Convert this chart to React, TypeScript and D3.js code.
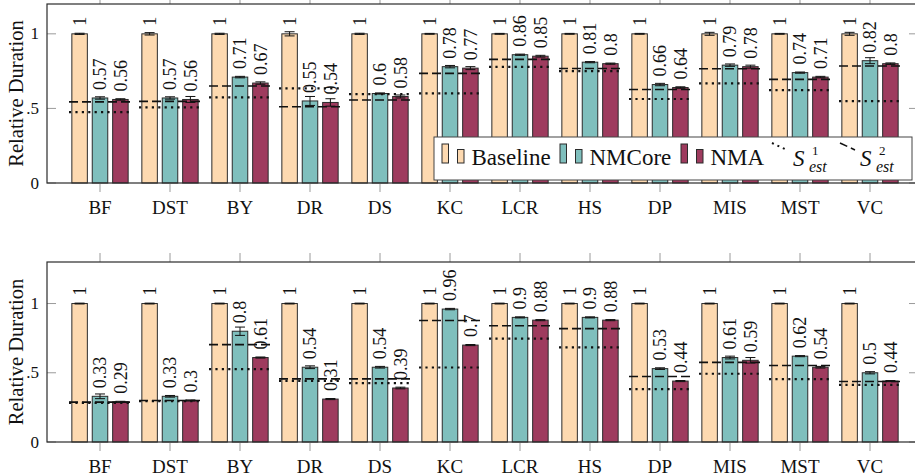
import React from "react";
import * as d3 from "d3";

const categories = ["BF", "DST", "BY", "DR", "DS", "KC", "LCR", "HS", "DP", "MIS", "MST", "VC"];
const seriesNames = ["Baseline", "NMCore", "NMA"];
const yTickValues = [0, 0.5, 1];
const yTickLabels = ["0", ".5", "1"];

// Top panel
const topBaseline = [1, 1, 1, 1, 1, 1, 1, 1, 1, 1, 1, 1];
const topNMCore = [0.57, 0.57, 0.71, 0.55, 0.6, 0.78, 0.86, 0.81, 0.66, 0.79, 0.74, 0.82];
const topNMA = [0.56, 0.56, 0.67, 0.54, 0.58, 0.77, 0.85, 0.8, 0.64, 0.78, 0.71, 0.8];
const topBaselineErr = [0.004, 0.008, 0.004, 0.014, 0.004, 0.003, 0.003, 0.003, 0.003, 0.01, 0.003, 0.01];
const topNMCoreErr = [0.008, 0.008, 0.005, 0.03, 0.004, 0.008, 0.004, 0.004, 0.008, 0.008, 0.004, 0.02];
const topNMAErr = [0.005, 0.02, 0.008, 0.025, 0.01, 0.01, 0.006, 0.004, 0.005, 0.01, 0.005, 0.005];
const topS1 = [0.475, 0.507, 0.574, 0.634, 0.596, 0.601, 0.779, 0.75, 0.563, 0.668, 0.623, 0.549];
const topS2 = [0.544, 0.547, 0.65, 0.511, 0.556, 0.735, 0.829, 0.768, 0.627, 0.766, 0.695, 0.784];

// Bottom panel
const botBaseline = [1, 1, 1, 1, 1, 1, 1, 1, 1, 1, 1, 1];
const botNMCore = [0.33, 0.33, 0.8, 0.54, 0.54, 0.96, 0.9, 0.9, 0.53, 0.61, 0.62, 0.5];
const botNMA = [0.29, 0.3, 0.61, 0.31, 0.39, 0.7, 0.88, 0.88, 0.44, 0.59, 0.54, 0.44];
const botBaselineErr = [0.003, 0.003, 0.003, 0.003, 0.003, 0.003, 0.003, 0.003, 0.003, 0.003, 0.003, 0.003];
const botNMCoreErr = [0.017, 0.006, 0.03, 0.01, 0.006, 0.005, 0.004, 0.004, 0.006, 0.01, 0.004, 0.008];
const botNMAErr = [0.004, 0.004, 0.004, 0.004, 0.006, 0.004, 0.004, 0.004, 0.004, 0.02, 0.006, 0.004];
const botS1 = [0.283, 0.295, 0.527, 0.442, 0.425, 0.538, 0.746, 0.683, 0.382, 0.493, 0.454, 0.413];
const botS2 = [0.288, 0.3, 0.703, 0.456, 0.456, 0.877, 0.84, 0.819, 0.473, 0.575, 0.553, 0.437];

const COLORS = ["#FDD9B0", "#7FBFBD", "#9E3B5E"];
const FONT = '"Liberation Serif", "DejaVu Serif", "Times New Roman", Times, serif';
const W = 915;
const H = 476;
const PLOT_LEFT = 47;
const PLOT_RIGHT = 918;

type PanelProps = {
  top: number;
  bottom: number;
  yMax: number;
  values: number[][];
  errs: number[][];
  s1: number[];
  s2: number[];
  legend?: boolean;
};

const x = d3.scalePoint<string>().domain(categories).range([PLOT_LEFT + 53, PLOT_RIGHT - 48]);
const off = d3.scalePoint<string>().domain(seriesNames).range([-20.4, 20.4]);
const BAR_W = 15.5;
const LINE_HALF = 31;

const T = (size: number, italic = false): React.CSSProperties => ({
  fontFamily: FONT,
  fontSize: size,
  fontStyle: italic ? "italic" : "normal",
  fill: "#111",
});

function Panel({ top, bottom, yMax, values, errs, s1, s2, legend }: PanelProps) {
  const y = d3.scaleLinear().domain([0, yMax]).range([bottom, top]);
  const fmt = (v: number) => String(+v.toFixed(2));
  const midY = (top + bottom) / 2;
  return (
    <g>
      {seriesNames.map((s, si) =>
        categories.map((c, ci) => {
          const cx = (x(c) as number) + (off(s) as number);
          const v = values[si][ci];
          return (
            <rect
              key={`b-${s}-${c}`}
              x={cx - BAR_W / 2}
              y={y(v)}
              width={BAR_W}
              height={y(0) - y(v)}
              fill={COLORS[si]}
              stroke="#2b2b2b"
              strokeWidth={1}
            />
          );
        })
      )}
      {seriesNames.map((s, si) =>
        categories.map((c, ci) => {
          const cx = (x(c) as number) + (off(s) as number);
          const v = values[si][ci];
          const e = errs[si][ci];
          return (
            <g key={`e-${s}-${c}`} stroke="#111" strokeWidth={1}>
              <line x1={cx} x2={cx} y1={y(v + e)} y2={y(v - e)} />
              <line x1={cx - 5} x2={cx + 5} y1={y(v + e)} y2={y(v + e)} />
              <line x1={cx - 5} x2={cx + 5} y1={y(v - e)} y2={y(v - e)} />
            </g>
          );
        })
      )}
      {categories.map((c, ci) => (
        <g key={`l-${c}`}>
          <line
            x1={(x(c) as number) - LINE_HALF}
            x2={(x(c) as number) + LINE_HALF}
            y1={y(s2[ci])}
            y2={y(s2[ci])}
            stroke="#111"
            strokeWidth={1.6}
            strokeDasharray="9 4"
          />
          <line
            x1={(x(c) as number) - LINE_HALF}
            x2={(x(c) as number) + LINE_HALF}
            y1={y(s1[ci])}
            y2={y(s1[ci])}
            stroke="#111"
            strokeWidth={2.2}
            strokeDasharray="2.2 4.2"
          />
        </g>
      ))}
      {seriesNames.map((s, si) =>
        categories.map((c, ci) => {
          const cx = (x(c) as number) + (off(s) as number);
          const v = values[si][ci];
          return (
            <text
              key={`t-${s}-${c}`}
              transform={`translate(${cx},${y(v) - 8}) rotate(-90)`}
              dy="0.34em"
              style={T(18)}
            >
              {fmt(v)}
            </text>
          );
        })
      )}
      {yTickValues.map((t, i) => (
        <g key={`yt-${t}`}>
          <line x1={PLOT_LEFT} x2={PLOT_LEFT + 9} y1={y(t)} y2={y(t)} stroke="#9a9a9a" strokeWidth={1} />
          <line x1={PLOT_RIGHT - 9} x2={PLOT_RIGHT} y1={y(t)} y2={y(t)} stroke="#9a9a9a" strokeWidth={1} />
          <text x={39} y={y(t)} dy="0.33em" textAnchor="end" style={T(17)}>
            {yTickLabels[i]}
          </text>
        </g>
      ))}
      {categories.map((c) => (
        <g key={`xt-${c}`}>
          <line x1={x(c)} x2={x(c)} y1={bottom} y2={bottom + 9} stroke="#9a9a9a" strokeWidth={1} />
          <line x1={x(c)} x2={x(c)} y1={top - 9} y2={top} stroke="#9a9a9a" strokeWidth={1} />
          <text x={x(c)} y={bottom + 31} textAnchor="middle" style={T(19)}>
            {c}
          </text>
        </g>
      ))}
      <rect x={PLOT_LEFT} y={top} width={PLOT_RIGHT - PLOT_LEFT} height={bottom - top} fill="none" stroke="#2b2b2b" strokeWidth={1.2} />
      <text transform={`translate(16,${midY}) rotate(-90)`} dy="0.34em" textAnchor="middle" style={T(20.5)}>
        Relative Duration
      </text>
      {legend && <Legend />}
    </g>
  );
}

function Legend() {
  const items = [
    { label: "Baseline", x: 442 },
    { label: "NMCore", x: 560 },
    { label: "NMA", x: 681 },
  ];
  return (
    <g>
      <rect x={434} y={137} width={478} height={43} fill="#fff" stroke="#444" strokeWidth={1} />
      {items.map((it, i) => (
        <g key={it.label}>
          <rect x={it.x} y={144} width={6.5} height={19} fill={COLORS[i]} stroke="#2b2b2b" strokeWidth={1} />
          <rect x={it.x + 15.5} y={149.5} width={6.5} height={13.5} fill={COLORS[i]} stroke="#2b2b2b" strokeWidth={1} />
          <text x={it.x + 29.5} y={165} style={T(23)}>
            {it.label}
          </text>
        </g>
      ))}
      <line x1={772} y1={143} x2={787} y2={150} stroke="#111" strokeWidth={2} strokeDasharray="2 4" />
      <text x={793} y={166} style={T(23, true)}>S</text>
      <text x={812} y={155} style={T(13)}>1</text>
      <text x={809} y={172} style={T(16, true)}>est</text>
      <line x1={840} y1={143} x2={855} y2={150} stroke="#111" strokeWidth={1.6} strokeDasharray="8 4" />
      <text x={860} y={166} style={T(23, true)}>S</text>
      <text x={879} y={155} style={T(13)}>2</text>
      <text x={876} y={172} style={T(16, true)}>est</text>
    </g>
  );
}

export default function App() {
  return (
    <svg
      width={W}
      height={H}
      viewBox={`0 0 ${W} ${H}`}
      style={{ position: "fixed", left: 0, top: 0, background: "#fff" }}
    >
      <rect x={0} y={0} width={W} height={H} fill="#fff" />
      <Panel
        top={4}
        bottom={183}
        yMax={1.2}
        values={[topBaseline, topNMCore, topNMA]}
        errs={[topBaselineErr, topNMCoreErr, topNMAErr]}
        s1={topS1}
        s2={topS2}
        legend
      />
      <Panel
        top={262}
        bottom={442}
        yMax={1.3}
        values={[botBaseline, botNMCore, botNMA]}
        errs={[botBaselineErr, botNMCoreErr, botNMAErr]}
        s1={botS1}
        s2={botS2}
      />
    </svg>
  );
}
